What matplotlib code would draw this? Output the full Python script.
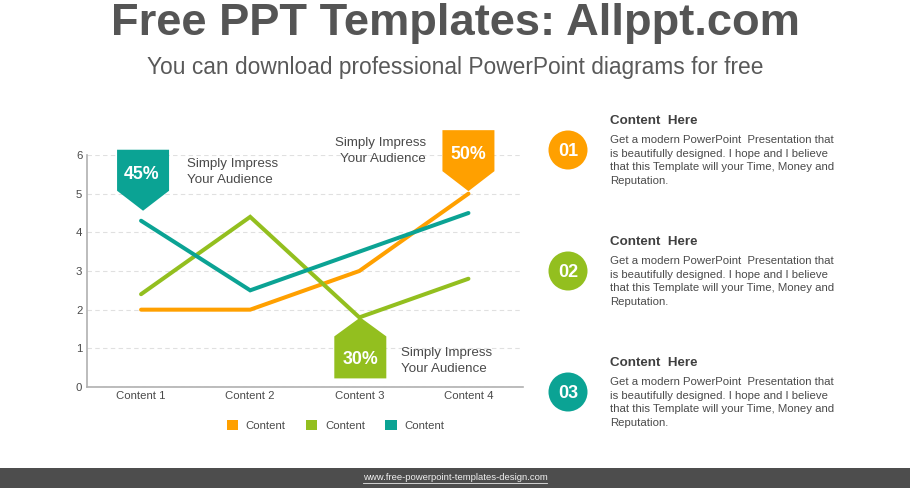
import matplotlib
matplotlib.use("Agg")
import matplotlib.pyplot as plt
from matplotlib.patches import Polygon, Circle, Rectangle, Patch

plt.rcParams['font.family'] = ['Liberation Sans', 'DejaVu Sans']

W, H = 910, 488
categories = ["Content 1", "Content 2", "Content 3", "Content 4"]
orange_values = [2.0, 2.0, 3.0, 5.0]
green_values = [2.4, 4.4, 1.8, 2.8]
teal_values = [4.3, 2.5, 3.5, 4.5]
series_names = ["Content", "Content", "Content"]
yticks = [0, 1, 2, 3, 4, 5, 6]
title = "Free PPT Templates: Allppt.com"
subtitle = "You can download professional PowerPoint diagrams for free"
callout_text = "Simply Impress\nYour Audience"
item_head = "Content  Here"
item_body = ("Get a modern PowerPoint  Presentation that\n"
             "is beautifully designed. I hope and I believe\n"
             "that this Template will your Time, Money and\n"
             "Reputation.")
footer = "www.free-powerpoint-templates-design.com"

ORANGE, GREEN, TEAL = "#FFA000", "#93BF1F", "#0BA394"
TXT = "#4a4a4a"

fig = plt.figure(figsize=(W / 100, H / 100), dpi=100, facecolor="white")

# overlay in pixel coordinates (y down)
ov = fig.add_axes([0, 0, 1, 1], zorder=3)
ov.set_xlim(0, W)
ov.set_ylim(H, 0)
ov.axis("off")
ov.patch.set_alpha(0)

L, R, T, B = 86.5, 523, 155, 387
ax = fig.add_axes([L / W, 1 - B / H, (R - L) / W, (B - T) / H], zorder=2)
x = list(range(len(categories)))
for vals, c, name in [(orange_values, ORANGE, series_names[0]),
                      (green_values, GREEN, series_names[1]),
                      (teal_values, TEAL, series_names[2])]:
    ax.plot(x, vals, color=c, lw=2.9, solid_capstyle="round",
            solid_joinstyle="miter", label=name, zorder=3)
ax.set_xlim(-0.5, 3.5)
ax.set_ylim(0, 6)
ax.set_yticks(yticks)
ax.set_xticks(x, categories)
ax.grid(axis="y", color="#e0e0e0", lw=0.8, ls=(0, (4, 3)))
ax.set_axisbelow(True)
for s in ("top", "right"):
    ax.spines[s].set_visible(False)
for s in ("left", "bottom"):
    ax.spines[s].set_color("#b0b0b0")
    ax.spines[s].set_linewidth(1.2)
ax.tick_params(axis="both", length=0, labelsize=8.2, labelcolor=TXT)
ax.tick_params(axis="x", pad=3.2)
ax.tick_params(axis="y", pad=3)
ax.patch.set_alpha(0)

handles = [Patch(facecolor=c, edgecolor="none") for c in (ORANGE, GREEN, TEAL)]
ax.legend(handles, series_names, ncol=3, frameon=False, fontsize=8.2,
          labelcolor=TXT, handlelength=1.0, handleheight=1.0, handletextpad=0.68,
          columnspacing=1.78, loc="center", borderpad=0, borderaxespad=0,
          bbox_to_anchor=((335.5 - L) / (R - L), (B - 425.5) / (B - T)))

# Titles
ov.text(455, 24, title, ha="center", va="center", fontsize=32.6, fontweight="bold", color="#555555")
ov.text(455, 67.5, subtitle, ha="center", va="center", fontsize=16.4, color="#595959")

def px(i, v):
    xp, yp = ax.transData.transform((i, v))
    return xp, H - yp

hw = 26
def flag_down(i, v, c, label, dx, gap):
    xp, yp = px(i, v)
    xp += dx
    tip = yp - gap
    pts = [(xp - hw, tip - 61), (xp + hw, tip - 61), (xp + hw, tip - 20), (xp, tip), (xp - hw, tip - 20)]
    ov.add_patch(Polygon(pts, closed=True, fc=c, ec="none", zorder=4))
    ov.text(xp - dx / 2, tip - 36.5, label, ha="center", va="center", color="white",
            fontsize=12.8, fontweight="bold", zorder=5)

def flag_up(i, v, c, label, dx):
    xp, yp = px(i, v)
    xp += dx
    tip = yp
    pts = [(xp - hw, tip + 61), (xp + hw, tip + 61), (xp + hw, tip + 19), (xp, tip), (xp - hw, tip + 19)]
    ov.add_patch(Polygon(pts, closed=True, fc=c, ec="none", zorder=4))
    ov.text(xp, tip + 42, label, ha="center", va="center", color="white",
            fontsize=12.8, fontweight="bold", zorder=5)

flag_down(0, teal_values[0], TEAL, "45%", 2, 10)
flag_down(3, orange_values[3], ORANGE, "50%", 0, 2.5)
flag_up(2, green_values[2], GREEN, "30%", 1)

ck = dict(fontsize=9.6, color=TXT, va="center", linespacing=1.38)
ov.text(187, 172, callout_text, ha="left", **ck)
ov.text(426, 151, callout_text, ha="right", **ck)
ov.text(401, 361, callout_text, ha="left", **ck)

# Right column
for cy, c, num, head_y, body_y in [(150, ORANGE, "01", 120, 160.5),
                                   (271, GREEN, "02", 241, 281.5),
                                   (392, TEAL, "03", 362, 402.5)]:
    ov.add_patch(Circle((568, cy), 19.5, fc=c, ec="none"))
    ov.text(568, cy + 1.5, num, ha="center", va="center", color="white", fontsize=13, fontweight="bold")
    ov.text(610, head_y + 1, item_head, ha="left", va="center", fontsize=9.6, fontweight="bold", color="#404040")
    ov.text(610, body_y, item_body, ha="left", va="center", fontsize=8.2, color=TXT, linespacing=1.44)

# Footer
ov.add_patch(Rectangle((0, 468), W, 20, fc="#4d4d4d", ec="none"))
ov.text(455, 478, footer, ha="center", va="center", fontsize=6.8, color="#f0f0f0")
ov.plot([363, 547], [483, 483], color="#e8e8e8", lw=0.6)
ov.set_xlim(0, W)
ov.set_ylim(H, 0)

fig.savefig("out.png", dpi=100)
